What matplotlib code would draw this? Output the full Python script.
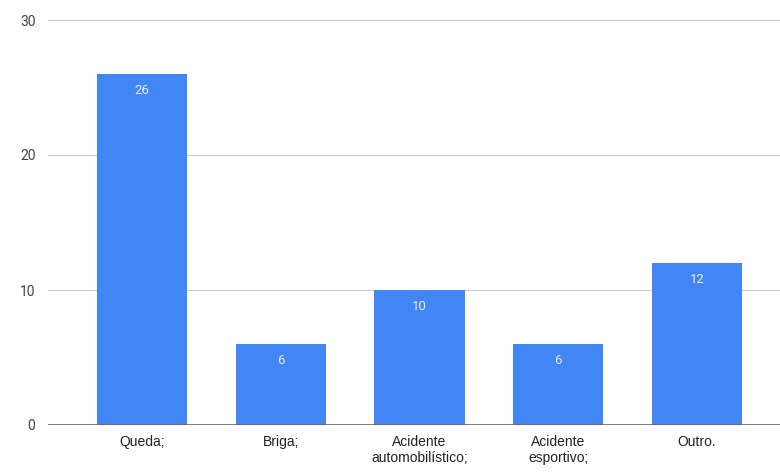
import matplotlib.pyplot as plt

# Dados do grafico
categorias = ['Queda;', 'Briga;', 'Acidente\nautomobilístico;', 'Acidente\nesportivo;', 'Outro.']
valores = [26, 6, 10, 6, 12]
ticks_y = [0, 10, 20, 30]

fig = plt.figure(figsize=(7.8, 4.72), dpi=100)
ax = fig.add_axes([48 / 780, 47 / 472, 1 - 48 / 780, (425 - 20) / 472])

posicoes = list(range(len(categorias)))
ax.bar(posicoes, valores, width=0.65, color='#4285f4', zorder=3)

# Rotulos dentro das barras
for x, v in zip(posicoes, valores):
    ax.annotate(str(v), (x, v), xytext=(0, -7), textcoords='offset points',
                ha='center', va='top', color='#e8eefc', fontsize=9.5,
                fontfamily='Roboto', zorder=4)

ax.set_xlim(-0.677, 4.598)
ax.set_ylim(0, 30)
ax.set_yticks(ticks_y)
ax.set_yticklabels([str(t) for t in ticks_y], fontfamily='Roboto', fontsize=10, color='#444444')
ax.set_xticks(posicoes)
ax.set_xticklabels(categorias, fontfamily='Liberation Sans', fontsize=10,
                   color='#222222', linespacing=1.2)

ax.grid(axis='y', color='#cccccc', linewidth=0.8, zorder=0)
ax.axhline(0, color='#666666', linewidth=1.2, zorder=5)
for s in ax.spines.values():
    s.set_visible(False)
ax.tick_params(axis='both', length=0)
ax.tick_params(axis='y', pad=9)
ax.tick_params(axis='x', pad=7)

plt.savefig('out.png')
